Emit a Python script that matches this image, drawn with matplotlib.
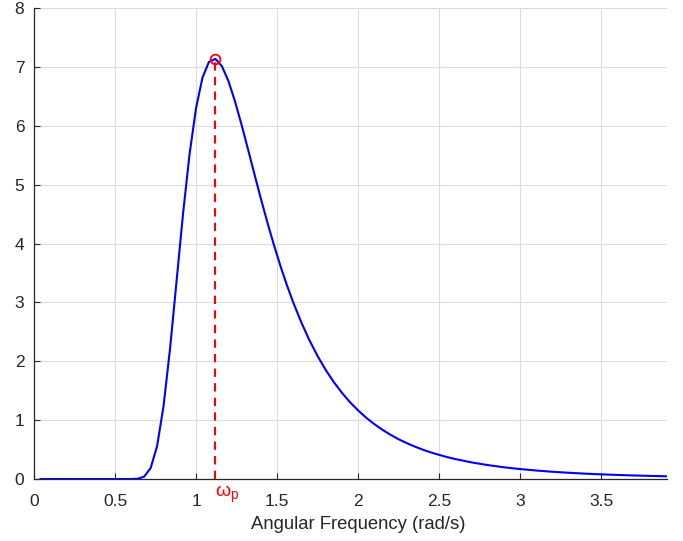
import matplotlib.pyplot as plt

plt.rcParams['font.family'] = ['Liberation Sans', 'DejaVu Sans']

# spectrum samples (rad/s, spectral density)
w = [0.04, 0.2, 0.4, 0.56, 0.60, 0.64, 0.68, 0.72, 0.76, 0.80, 0.84, 0.88, 0.92, 0.96,
     1.00, 1.04, 1.08, 1.12, 1.16, 1.20, 1.24, 1.28, 1.32, 1.36, 1.40, 1.44, 1.48,
     1.52, 1.56, 1.60, 1.65, 1.7, 1.75, 1.8, 1.85, 1.9, 1.95, 2.0, 2.05, 2.1, 2.15,
     2.2, 2.25, 2.3, 2.35, 2.4, 2.45, 2.5, 2.55, 2.6, 2.7, 2.8, 2.9, 3.0, 3.1, 3.2,
     3.3, 3.4, 3.5, 3.6, 3.7, 3.8, 3.9]
S = [0.0, 0.0, 0.0, 0.0, 0.0002, 0.005, 0.040, 0.186, 0.561, 1.248, 2.221, 3.362,
     4.508, 5.515, 6.297, 6.818, 7.086, 7.135, 7.011, 6.760, 6.420, 6.028, 5.610,
     5.184, 4.765, 4.363, 3.983, 3.628, 3.300, 2.999, 2.659, 2.357, 2.090, 1.855,
     1.648, 1.466, 1.306, 1.166, 1.042, 0.933, 0.837, 0.752, 0.676, 0.610, 0.551,
     0.498, 0.451, 0.410, 0.372, 0.339, 0.282, 0.237, 0.199, 0.169, 0.144, 0.123,
     0.106, 0.091, 0.079, 0.069, 0.060, 0.053, 0.046]

wp = 1.12
Sp = 7.135

xticks = [0, 0.5, 1, 1.5, 2, 2.5, 3, 3.5]
xticklabels = ['0', '0.5', '1', '1.5', '2', '2.5', '3', '3.5']
yticks = [0, 1, 2, 3, 4, 5, 6, 7, 8]

fig = plt.figure(figsize=(6.83, 5.41), dpi=100)
ax = fig.add_axes([34 / 683, 62 / 541, 633 / 683, 471 / 541])

ax.plot(w, S, color='b', lw=1.5, zorder=3)
ax.plot([wp, wp], [0, Sp], color='r', lw=1.5, ls=(0, (4, 3)), zorder=3)
ax.plot([wp], [Sp], 'o', mfc='none', mec='r', ms=7, mew=1.3, zorder=4)
ax.text(wp, -0.09, r'$\mathregular{\omega_p}$', color='r', fontsize=14,
        ha='left', va='top')

ax.set_xlim(0, 3.907)
ax.set_ylim(0, 8)
ax.set_xticks(xticks)
ax.set_xticklabels(xticklabels)
ax.set_yticks(yticks)

ax.grid(True, color='#dcdcdc', lw=0.8)
ax.set_axisbelow(True)
for side in ['top', 'right']:
    ax.spines[side].set_visible(False)
for side in ['left', 'bottom']:
    ax.spines[side].set_color('#262626')
    ax.spines[side].set_linewidth(0.9)
ax.tick_params(direction='in', length=4.5, width=0.8, colors='#262626',
               labelsize=12.5, labelcolor='#262626')
ax.tick_params(axis='x', pad=11)
ax.tick_params(axis='y', pad=7)

ax.set_xlabel('Angular Frequency (rad/s)', fontsize=13.3, color='#262626')
ax.xaxis.set_label_coords(0.512, -0.078)

fig.savefig('out.png', dpi=100)
